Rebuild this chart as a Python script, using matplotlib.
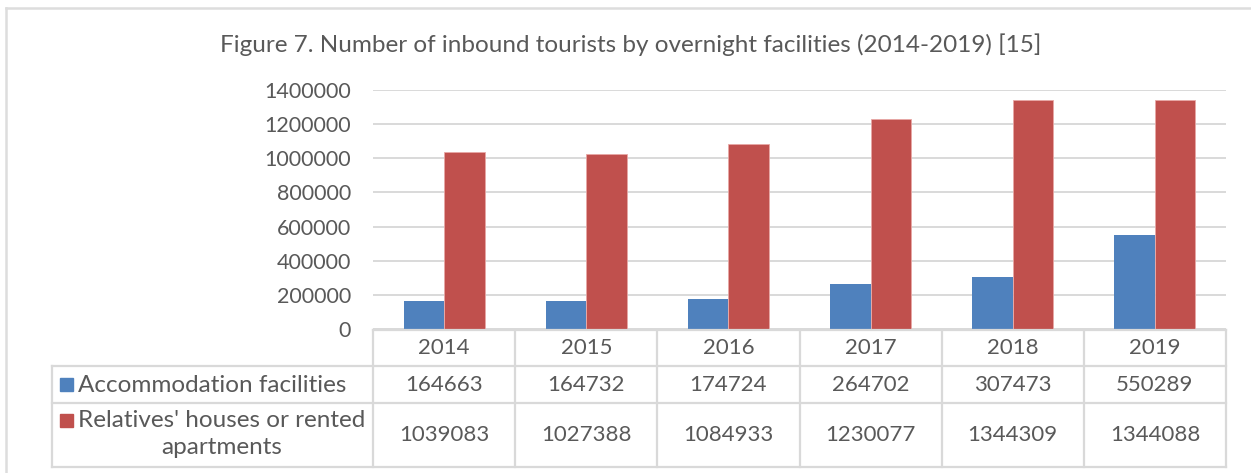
import matplotlib
matplotlib.use('Agg')
import matplotlib.pyplot as plt
import matplotlib.transforms as mtransforms
from matplotlib.lines import Line2D
from matplotlib.patches import Rectangle

years = ['2014', '2015', '2016', '2017', '2018', '2019']
accommodation = [164663, 164732, 174724, 264702, 307473, 550289]
relatives = [1039083, 1027388, 1084933, 1230077, 1344309, 1344088]
series_names = ['Accommodation facilities', "Relatives' houses or rented\napartments"]
series_colors = ['#4F81BD', '#C0504D']
y_ticks = [0, 200000, 400000, 600000, 800000, 1000000, 1200000, 1400000]
title = 'Figure 7. Number of inbound tourists by overnight facilities (2014-2019) [15]'

W, H = 1251, 473
txt = '#595959'
grid = '#D9D9D9'
plt.rcParams['font.family'] = ['Lato', 'DejaVu Sans']

fig = plt.figure(figsize=(W / 100, H / 100), dpi=100)

def fy(py):
    return 1 - py / H

def fx(px):
    return px / W

ax = fig.add_axes([fx(373), fy(329), (1226 - 373) / W, (329 - 90) / H])
x = list(range(len(years)))
bw = 0.285
ax.bar([i - bw / 2 for i in x], accommodation, bw, color=series_colors[0], zorder=3)
ax.bar([i + bw / 2 for i in x], relatives, bw, color=series_colors[1],
       edgecolor='#E8A8A6', linewidth=0.6, zorder=3)
ax.set_xlim(-0.5, len(years) - 0.5)
ax.set_ylim(0, 1400000)
ax.set_yticks(y_ticks)
ax.set_yticklabels([str(v) for v in y_ticks], fontsize=15.5, color=txt)
ax.tick_params(axis='y', length=0, pad=16)
ax.set_xticks([])
ax.grid(axis='y', color=grid, linewidth=1.4, zorder=0)
for s in ax.spines.values():
    s.set_visible(False)

# data table under the plot
tr = mtransforms.blended_transform_factory(ax.transData, fig.transFigure)
lkw = dict(color=grid, linewidth=1.6, transform=tr, clip_on=False)
x_lab = ax.transData.inverted().transform((52, 0))[0]
right = len(years) - 0.5
fig.add_artist(Line2D([-0.5, right], [fy(329.5), fy(329.5)], **lkw))
for yy in [366, 403, 466.5]:
    fig.add_artist(Line2D([x_lab, right], [fy(yy), fy(yy)], **lkw))
for k in range(len(years) + 1):
    fig.add_artist(Line2D([k - 0.5, k - 0.5], [fy(329.5), fy(466.5)], **lkw))
fig.add_artist(Line2D([x_lab, x_lab], [fy(366), fy(466.5)], **lkw))

for i, yr in enumerate(years):
    fig.text(i, fy(348), yr, transform=tr, ha='center', va='center', fontsize=16, color=txt)
    fig.text(i, fy(385), str(accommodation[i]), transform=tr, ha='center', va='center',
             fontsize=16, color=txt)
    fig.text(i, fy(435), str(relatives[i]), transform=tr, ha='center', va='center',
             fontsize=16, color=txt)

fig.add_artist(Rectangle((fx(60), fy(391)), 13 / W, 13 / H, color=series_colors[0],
                         transform=fig.transFigure))
fig.add_artist(Rectangle((fx(60), fy(427)), 13 / W, 13 / H, color=series_colors[1],
                         transform=fig.transFigure))
fig.text(fx(78), fy(385), series_names[0], ha='left', va='center', fontsize=17.5, color=txt)
fig.text(fx(222), fy(434), series_names[1], ha='center', va='center', fontsize=17.5,
         color=txt, multialignment='center', linespacing=1.35)

# title and outer frame
fig.text(fx(631), fy(45), title, ha='center', va='center', fontsize=17.5, color=txt)
fig.add_artist(Line2D([fx(6), 1], [fy(8.5), fy(8.5)], color='#DDDDDD', linewidth=1.8))
fig.add_artist(Line2D([fx(6), fx(6)], [0, fy(8.5)], color='#DDDDDD', linewidth=1.8))

fig.savefig('out.png', dpi=100)
